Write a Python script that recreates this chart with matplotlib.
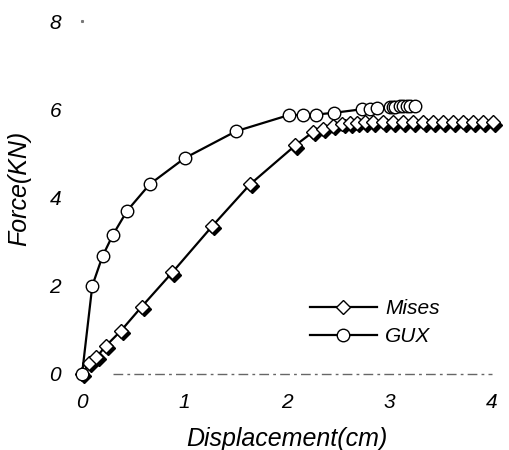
import matplotlib
matplotlib.use("Agg")
import matplotlib.pyplot as plt
import matplotlib.transforms as mtransforms

plt.rcParams['font.family'] = ['Liberation Sans', 'DejaVu Sans']

# Mises curve (diamonds)
mises_x = [0, 0.07, 0.14, 0.23, 0.38, 0.58, 0.88, 1.27, 1.64, 2.08, 2.25, 2.35,
           2.45, 2.54, 2.61, 2.68, 2.76, 2.84, 2.94, 3.03, 3.13, 3.23, 3.33, 3.42,
           3.52, 3.62, 3.72, 3.81, 3.91, 4.01]
mises_y = [0, 0.25, 0.38, 0.63, 0.98, 1.52, 2.3, 3.35, 4.3, 5.18, 5.48, 5.55,
           5.62, 5.66, 5.68, 5.69, 5.7, 5.7, 5.7, 5.7, 5.7, 5.7, 5.7, 5.7,
           5.7, 5.7, 5.7, 5.7, 5.7, 5.7]

# GUX curve (circles)
gux_x = [0, 0.1, 0.2, 0.3, 0.44, 0.66, 1.0, 1.5, 2.02, 2.16, 2.28, 2.46, 2.73,
         2.81, 2.88, 3.0, 3.03, 3.05, 3.1, 3.13, 3.17, 3.2, 3.25]
gux_y = [0, 2.0, 2.67, 3.15, 3.7, 4.3, 4.89, 5.5, 5.87, 5.87, 5.88, 5.92, 6.0,
         6.0, 6.02, 6.05, 6.06, 6.06, 6.07, 6.07, 6.08, 6.08, 6.08]

x_ticks = [0, 1, 2, 3, 4]
y_ticks = [0, 2, 4, 6, 8]

fig = plt.figure(figsize=(5.09, 4.5), dpi=100)
ax = fig.add_axes([0.131, 0.1396, 0.866, 0.8333])

# faint broken baseline at y = 0
ax.plot([0.3, 4.0], [0, 0], color='#666666', lw=1.0, dashes=(7, 3, 2, 3))
# tiny tick dot next to the top label
ax.plot([0], [8], marker='s', ms=1.2, color='#777777', lw=0)

# shadow of the diamonds, shifted down-right
shadow = mtransforms.offset_copy(ax.transData, fig=fig, x=1.6, y=-1.6, units='points')
ax.plot(mises_x, mises_y, linestyle='none', marker='D', markersize=7,
        color='black', transform=shadow, zorder=2)
ax.plot(mises_x, mises_y, color='black', lw=1.6, marker='D', markersize=7,
        markerfacecolor='white', markeredgecolor='black', markeredgewidth=1.0,
        label='Mises', zorder=3)
ax.plot(gux_x, gux_y, color='black', lw=1.6, marker='o', markersize=9,
        markerfacecolor='white', markeredgecolor='black', markeredgewidth=1.0,
        label='GUX', zorder=4)

ax.set_xlim(-0.15, 4.15)
ax.set_ylim(-0.3, 8.2)
ax.set_xticks(x_ticks)
ax.set_yticks(y_ticks)
ax.tick_params(length=0, labelsize=15, pad=4)
for lab in ax.get_xticklabels() + ax.get_yticklabels():
    lab.set_style('italic')
for s in ax.spines.values():
    s.set_visible(False)

ax.set_xlabel('Displacement(cm)', fontsize=18, style='italic')
ax.set_ylabel('Force(KN)', fontsize=18, style='italic')
ax.xaxis.set_label_coords(0.5, -0.106)
ax.yaxis.set_label_coords(-0.08, 0.53)

leg = ax.legend(loc='center left', bbox_to_anchor=(0.552, 0.172), frameon=False,
                handlelength=3.2, handletextpad=0.4, labelspacing=0.45,
                borderpad=0, borderaxespad=0,
                prop={'style': 'italic', 'size': 15})

fig.savefig('out.png', dpi=100)
